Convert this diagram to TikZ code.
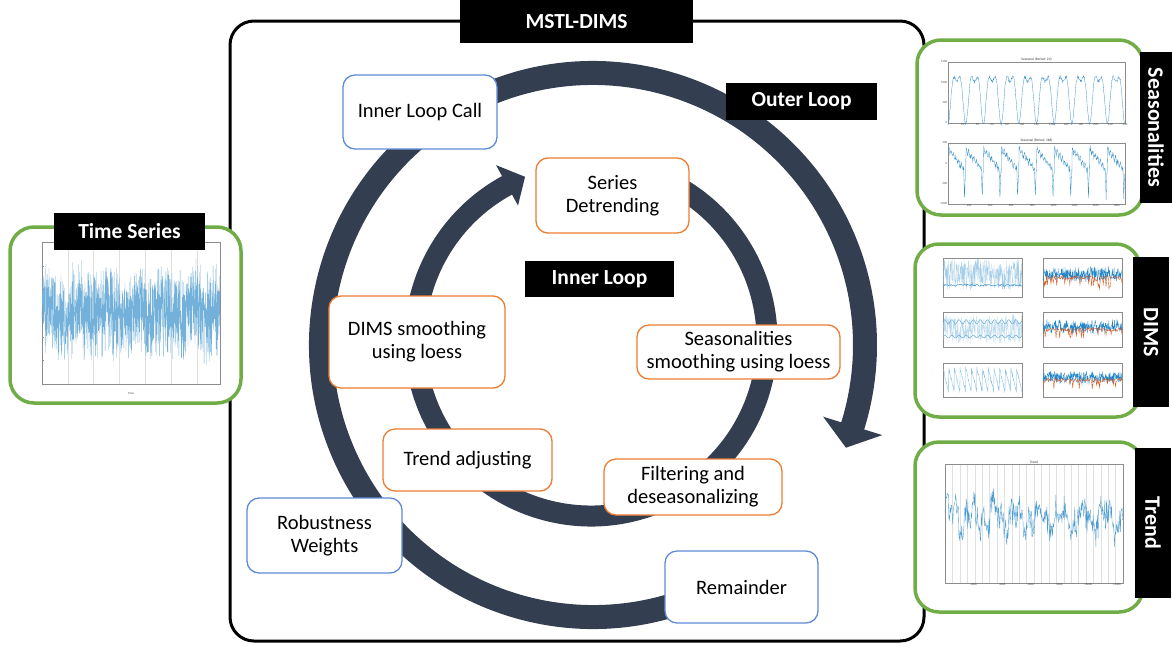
\documentclass[tikz,border=0pt]{standalone}
\usepackage{fontspec}
\setmainfont{Carlito}
\definecolor{ringc}{RGB}{51,63,80}
\definecolor{bluec}{RGB}{96,138,214}
\definecolor{orangec}{RGB}{237,125,49}
\definecolor{greenc}{RGB}{112,173,71}
\definecolor{pblue}{RGB}{0,114,189}
\definecolor{porange}{RGB}{217,83,25}
\begin{document}
\begin{tikzpicture}[x=1pt,y=-1pt,
  bluebox/.style={draw=bluec, line width=1.3pt, rounded corners=12pt, fill=white, align=center, inner sep=0pt, font=\fontsize{20.5}{23}\selectfont},
  orangebox/.style={draw=orangec, line width=1.3pt, rounded corners=12pt, fill=white, align=center, inner sep=0pt, font=\fontsize{20.5}{23}\selectfont},
  lbl/.style={fill=black, text=white, inner sep=0pt, font=\bfseries\fontsize{21.5}{26}\selectfont},
  vlbl/.style={fill=black, text=white, inner sep=0pt, rotate=-90, font=\bfseries\fontsize{22}{26}\selectfont},
  panel/.style={draw=greenc, line width=3.5pt, rounded corners=24pt, fill=white, inner sep=0pt},
  frame/.style={draw=black, line width=3pt, rounded corners=24pt, inner sep=0pt},
  axbox/.style={draw=black!45, line width=0.3pt},
  grid/.style={draw=black!12, line width=0.3pt},
  tick/.style={font=\fontsize{3}{3.5}\selectfont, inner sep=0.6pt, text=black!70},
  ttl/.style={font=\fontsize{3.5}{4}\selectfont, inner sep=0.6pt, text=black!80},
]
\useasboundingbox (0,0) rectangle (1172,646);
% main frame
\node[frame, minimum width=694pt, minimum height=620pt] (frm) at (577,331) {};
% rings
\coordinate (oc) at (593,345);
\coordinate (ic) at (591,340);
\draw[ringc, line width=24pt] ([shift={(62:272)}]oc) arc[start angle=62, end angle=377.8, radius=272];
\fill[ringc] ([shift={(17.3:241)}]oc) -- ([shift={(22.1:273)}]oc) -- ([shift={(17.3:303)}]oc) -- cycle;
\draw[ringc, line width=21pt] ([shift={(285:176)}]ic) arc[start angle=285, end angle=602, radius=176];
\fill[ringc] ([shift={(601.5:153)}]ic) -- ([shift={(608:176)}]ic) -- ([shift={(601.5:199)}]ic) -- cycle;
% process nodes
\node[bluebox, minimum width=154pt, minimum height=74pt] (ilc) at (420,112) {Inner Loop Call};
\node[bluebox, minimum width=155pt, minimum height=75pt] (rw) at (324.5,535.5) {Robustness\\Weights};
\node[bluebox, minimum width=153pt, minimum height=72pt] (rem) at (741.5,587) {Remainder};
\node[orangebox, minimum width=153pt, minimum height=75pt] (sd) at (612.5,195.5) {Series\\Detrending};
\node[orangebox, minimum width=203pt, minimum height=54pt] (ssl) at (738.5,352) {Seasonalities\\smoothing using loess};
\node[orangebox, minimum width=176pt, minimum height=92pt] (dsl) at (417,342) {DIMS smoothing\\using loess};
\node[orangebox, minimum width=169pt, minimum height=62pt] (ta) at (467.5,460) {Trend adjusting};
\node[orangebox, minimum width=178pt, minimum height=56pt] (fd) at (693,487) {Filtering and\\deseasonalizing};
\node[lbl, minimum width=149pt, minimum height=36pt] (ill) at (599.5,279) {Inner Loop};
\node[lbl, minimum width=151pt, minimum height=37pt] (oll) at (801.5,101.5) {Outer Loop};
% panels
\node[panel, minimum width=231pt, minimum height=176pt] (tsp) at (125.5,315) {};
\node[panel, minimum width=226pt, minimum height=175pt] (sep) at (1030,127.5) {};
\node[panel, minimum width=225pt, minimum height=173pt] (dmp) at (1027.5,330.5) {};
\node[panel, minimum width=228pt, minimum height=170pt] (trp) at (1029,527) {};
% ---- time series plot
\begin{scope}[xshift=42pt, yshift=-384pt, x=178pt, y=142pt]
  \foreach \g in {0.145,0.29,0.435,0.58,0.725,0.87} \draw[grid] (\g,0) -- (\g,1);
  \draw[axbox] (0,0) rectangle (1,1);
  \pgfmathsetseed{11}
  \draw[pblue!55, line width=0.3pt] plot[domain=0:1, samples=1300] (\x, {0.5+0.04*sin(\x*2200)+0.2*rand+0.17*rand});
  \foreach \v in {0,1,...,6} \draw[black!45, line width=0.3pt] (0,\v/6) -- (0.012,\v/6);
  \node[tick] at (0.5,-0.07) {Time};
\end{scope}
% ---- seasonal plot 1
\begin{scope}[xshift=948pt, yshift=-123pt, x=177pt, y=61pt]
  \draw[axbox] (0,0) rectangle (1,1);
  \pgfmathsetseed{5}
  \draw[pblue!80, line width=0.3pt] plot[domain=0:1, samples=400] (\x, {(750-520*cos(3600*\x)-250*cos(7200*\x)+40*rand)/1500});
  \foreach \v/\t in {0/0,0.3333/500,0.6667/1000,1/1500} \node[tick, anchor=east] at (0,\v) {\t};
  \foreach \k in {1,...,12} {\pgfmathtruncatemacro\lab{20*\k}\node[tick, anchor=north] at (\k/12,0) {\lab};}
  \node[ttl, anchor=south] at (0.5,1) {Seasonal (Period: 24)};
\end{scope}
% ---- seasonal plot 2
\begin{scope}[xshift=948pt, yshift=-204pt, x=177pt, y=61pt]
  \draw[axbox] (0,0) rectangle (1,1);
  \pgfmathsetseed{7}
  \draw[pblue!80, line width=0.3pt] plot[domain=0:0.999, samples=500] (\x, {(1000+350-550*mod(10*\x,1)+60*sin(2520*mod(10*\x,1))-750*max(0,1-abs(mod(10*\x,1)-0.93)/0.045)+50*rand)/1500});
  \foreach \v/\t in {0/-1000,0.3333/-500,0.6667/0,1/500} \node[tick, anchor=east] at (0,\v) {\t};
  \foreach \k in {1,...,8} {\pgfmathtruncatemacro\lab{200*\k}\node[tick, anchor=north] at (\k*200/1680,0) {\lab};}
  \node[ttl, anchor=south] at (0.5,1) {Seasonal (Period: 168)};
\end{scope}
% ---- DIMS plots (left column)
\begin{scope}[xshift=943pt, yshift=-297pt, x=79pt, y=39pt]
  \draw[axbox] (0,0) rectangle (1,1);
  \pgfmathsetseed{21}
  \draw[pblue!35, line width=0.3pt] plot[domain=0:1, samples=260] (\x, {0.58+0.4*rand});
  \draw[pblue!75, line width=0.5pt] plot[domain=0:1, samples=80] (\x, {0.3+0.03*rand});
\end{scope}
\begin{scope}[xshift=943pt, yshift=-347pt, x=79pt, y=35pt]
  \draw[axbox] (0,0) rectangle (1,1);
  \pgfmathsetseed{22}
  \draw[pblue!25, line width=0.3pt] plot[domain=0:1, samples=260] (\x, {0.52+0.42*rand});
  \draw[pblue!60, line width=0.5pt] plot[domain=0:1, samples=120] (\x, {0.72+0.06*sin(\x*4000)});
  \draw[pblue!60, line width=0.5pt] plot[domain=0:1, samples=120] (\x, {0.3+0.04*sin(\x*4000)});
\end{scope}
\begin{scope}[xshift=943pt, yshift=-397pt, x=79pt, y=34pt]
  \draw[axbox] (0,0) rectangle (1,1);
  \pgfmathsetseed{23}
  \draw[pblue!45, line width=0.35pt] plot[domain=0:0.999, samples=300] (\x, {0.85-0.7*mod(14*\x,1)+0.05*rand});
\end{scope}
% ---- DIMS plots (right column)
\foreach \yb/\h/\s in {297/39/31, 347/35/32, 397/34/33} {
\begin{scope}[xshift=1043pt, yshift=-\yb pt, x=79pt, y=\h pt]
  \draw[axbox] (0,0) rectangle (1,1);
  \pgfmathsetseed{\s}
  \draw[pblue!85, line width=0.3pt] plot[domain=0:1, samples=280] (\x, {0.58+0.13*rand+0.1*rand});
  \draw[porange, line width=0.35pt] plot[domain=0:1, samples=110] (\x, {0.5+0.05*rand-0.6*max(0,rand-0.55)});
\end{scope}
}
% ---- trend plot
\begin{scope}[xshift=945pt, yshift=-583pt, x=178pt, y=119pt]
  \foreach \g in {1,...,23} \draw[grid] (\g/24,0) -- (\g/24,1);
  \draw[axbox] (0,0) rectangle (1,1);
  \pgfmathsetseed{41}
  \draw[pblue!70, line width=0.35pt] plot[domain=0:1, samples=320] (\x, {0.55+0.08*sin(\x*2900)+0.06*sin(\x*7100)+0.13*rand});
  \foreach \k in {1,...,6} {\pgfmathtruncatemacro\lab{2000*\k}\node[tick, anchor=north] at (\k*0.161,0) {\lab};}
  \node[ttl, anchor=south] at (0.5,1) {Trend};
\end{scope}
% labels
\node[lbl, minimum width=233pt, minimum height=43pt] (mstl) at (576.5,21.5) {MSTL-DIMS};
\node[lbl, minimum width=151pt, minimum height=37pt] (tsl) at (129.5,231.5) {Time Series};
\node[vlbl, minimum width=151pt, minimum height=32pt] (sel) at (1156,127.5) {Seasonalities};
\node[vlbl, minimum width=150pt, minimum height=36pt] (dml) at (1151,332) {DIMS};
\node[vlbl, minimum width=150pt, minimum height=36pt] (trl) at (1153,523) {Trend};
\end{tikzpicture}
\end{document}
